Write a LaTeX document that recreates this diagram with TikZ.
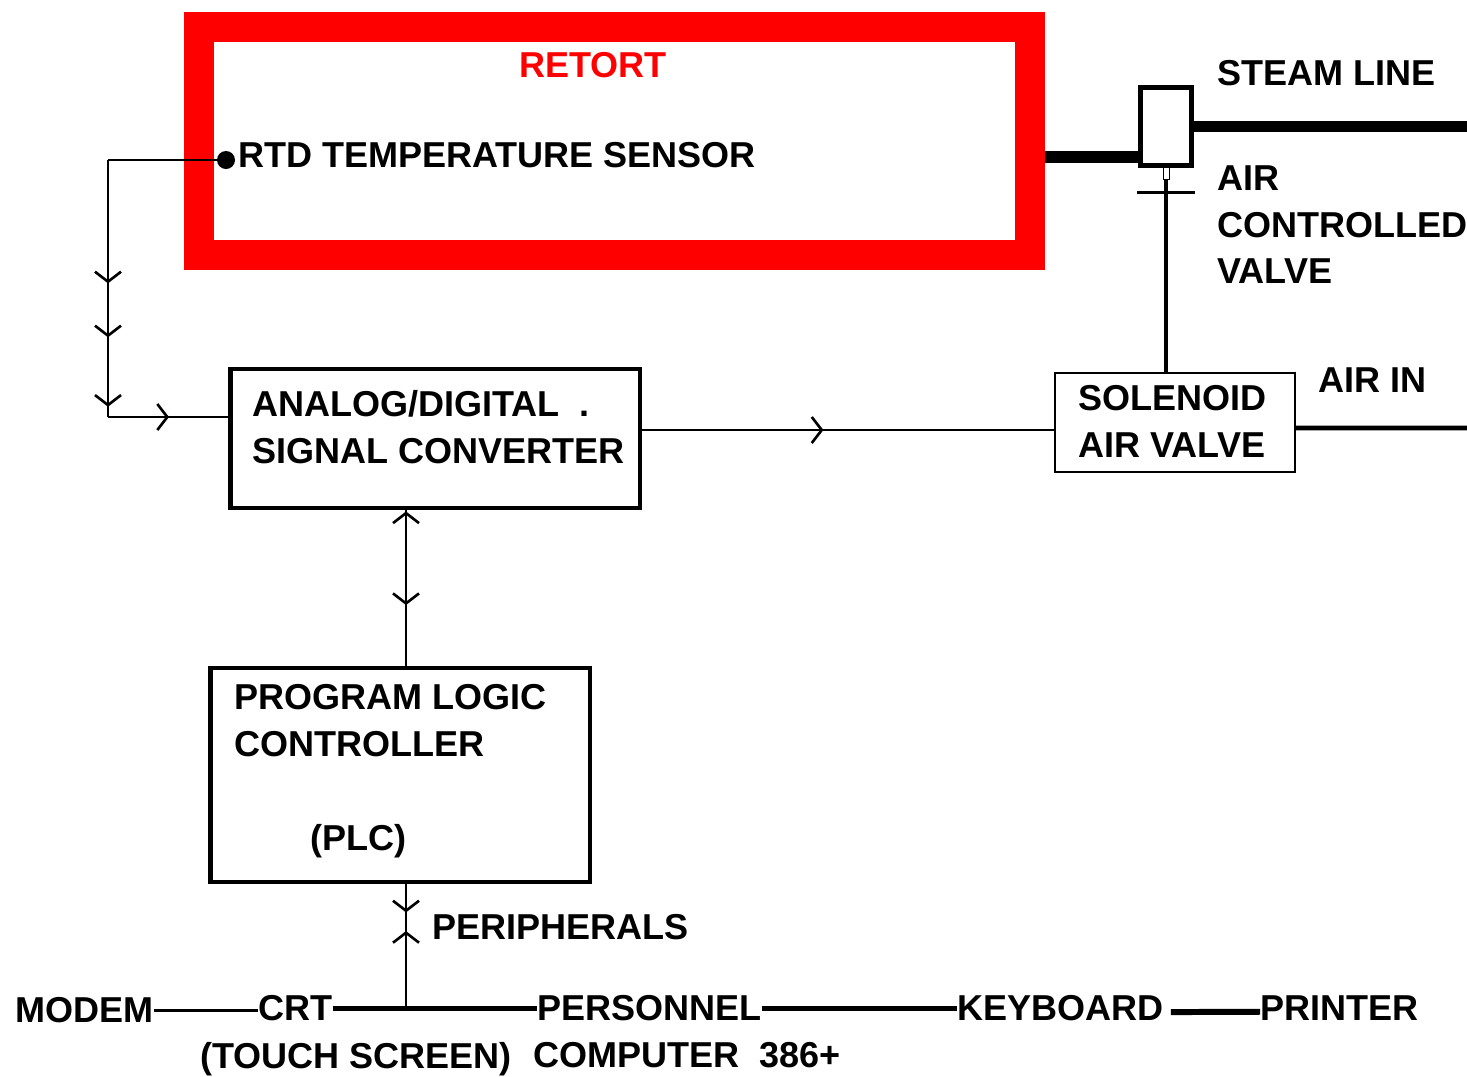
\documentclass[tikz,border=0pt]{standalone}
\usepackage{fontspec}
\setmainfont{Liberation Sans}
\usepackage{tikz}
\usetikzlibrary{positioning,arrows.meta,decorations.markings}

\begin{document}
\begin{tikzpicture}[x=0.02cm,y=-0.02cm,>={Straight Barb[length=0.2cm,width=0.52cm]},
    font=\bfseries\fontsize{20.5}{26.7}\selectfont,
    txt/.style={anchor=north west,inner sep=0pt,align=left},
    blk/.style={draw,rectangle,line width=2.8pt,inner sep=0pt},
    wire/.style={line width=1.5pt},
    pipe/.style={line width=6.8pt},
    arrs/.style={postaction={decorate},decoration={markings,#1}}]
    \useasboundingbox (0,0) rectangle (1467,1076);

    \node[draw=red,line width=0.6cm,minimum width=16.62cm,minimum height=4.56cm,inner sep=0pt] (R) at (614.5,141) {};
    \node[txt,text=red] (RT) at (519,52) {RETORT};
    \node[circle,fill,inner sep=0pt,minimum size=0.36cm] (dot) at (226,160) {};
    \node[txt] (TS) at (238,142) {RTD TEMPERATURE SENSOR};

    \node[blk,minimum width=8.2cm,minimum height=2.78cm] (A) at (435,438.5) {};
    \node[txt] (AT) at (252,390) {ANALOG/DIGITAL\ \ .\\SIGNAL CONVERTER};
    \node[blk,minimum width=7.6cm,minimum height=4.28cm] (P) at (400,775) {};
    \node[txt] (PT) at (234,684) {PROGRAM LOGIC\\CONTROLLER\\[26.7pt]\hspace*{1.52cm}(PLC)};

    \node[blk,line width=2.6pt,minimum width=1.02cm,minimum height=1.56cm] (V) at (1166,126.5) {};
    \node[blk,line width=1.4pt,minimum width=4.8cm,minimum height=1.98cm] (N) at (1175,422.5) {};
    \node[txt] (NT) at (1078,385) {SOLENOID\\AIR VALVE};
    \node[txt] (SL) at (1217,60) {STEAM LINE};
    \node[txt] (AV) at (1217,165) {AIR\\CONTROLLED\\VALVE};
    \node[txt] (AI) at (1318,367) {AIR IN};

    \node[txt] (PH) at (432,914) {PERIPHERALS};
    \node[txt] (M)  at (15,997)   {MODEM};
    \node[txt] (C)  at (258,995)  {CRT};
    \node[txt] (TC) at (200,1042) {(TOUCH SCREEN)};
    \node[txt] (PE) at (537,995)  {PERSONNEL};
    \node[txt] (CO) at (533,1042) {COMPUTER\ \ 386+};
    \node[txt] (K)  at (957,995)  {KEYBOARD};
    \node[txt] (PR) at (1260,995) {PRINTER};

    \coordinate (L)  at (108,417);
    \coordinate (B)  at (406,1006);
    \coordinate (SO) at (1467,128.5);
    \coordinate (AO) at (1467,428);

    % signal path
    \draw[wire] (dot) -- (dot -| L);
    \draw[wire,arrs={mark=at position .48 with {\arrow{>}},mark=at position .69 with {\arrow{>}},
        mark=at position .96 with {\arrow{>}}}] (dot -| L) -- (L);
    \draw[wire,arrs={mark=at position .51 with {\arrow{>}}}] (L) -- (L -| A.west);
    \draw[wire,arrs={mark=at position .44 with {\arrow{>}}}] ([yshift=0.17cm]A.east) -- ([yshift=0.17cm]A.east -| N.west);
    \draw[wire,arrs={mark=at position .09 with {\arrow{<}},mark=at position .61 with {\arrow{>}}}] (A.south -| B) -- (P.north -| B);
    \draw[wire,arrs={mark=at position .23 with {\arrow{>}},mark=at position .49 with {\arrow{<}}}] (P.south -| B) -- (B);

    % steam and air
    \draw[pipe] ([yshift=-0.32cm]R.east) -- ([yshift=-0.32cm]R.east -| V.west);
    \draw[pipe] (V.east) -- (V.east -| SO);
    \draw[thin] (V.south) ++(-3,0) rectangle ++(6,12);
    \draw[line width=2pt] (V.south) ++(0,12) -- (V.south |- N.north);
    \draw[line width=1.7pt] (V.south) ++(-29,25) -- ++(58,0);
    \draw[line width=2.8pt] ([yshift=-0.11cm]N.east) -- (AO);

    % peripherals bus
    \path[draw,line width=1.7pt] (M.east) edge (M.east -| C.west);
    \path[draw,line width=2.8pt]
    (C.east) edge (C.east -| PE.west)
    (PE.east) edge (K.west);
    \draw[line width=3.4pt,shorten <=0.14cm] ([yshift=-0.08cm]K.east) -- ([yshift=-0.08cm]PR.west);
\end{tikzpicture}
\end{document}
